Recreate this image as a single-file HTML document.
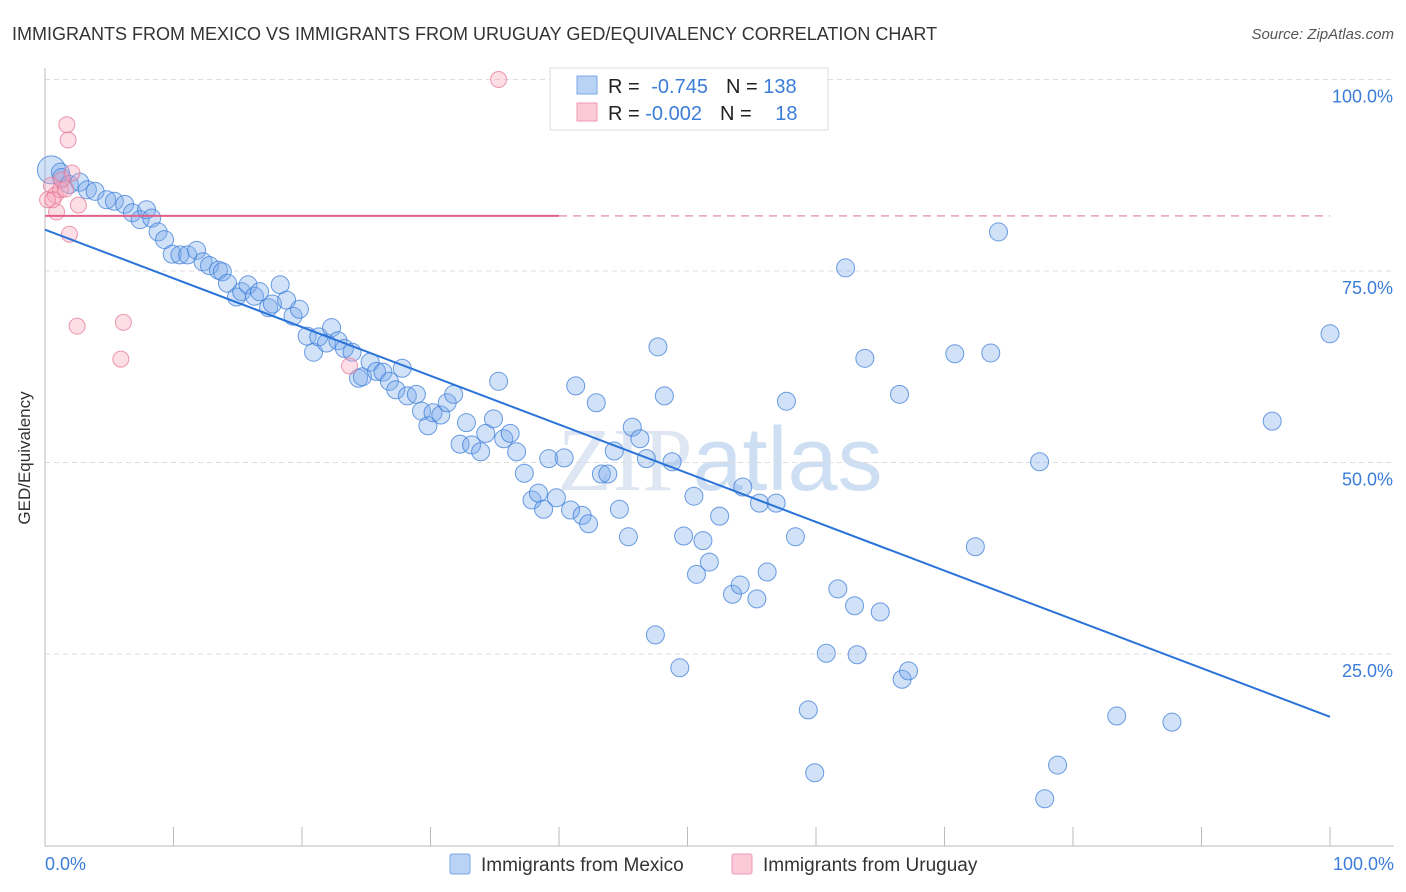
<!DOCTYPE html>
<html><head><meta charset="utf-8"><style>
body{margin:0;background:#fff;font-family:"Liberation Sans",sans-serif}
svg{display:block}
</style></head><body>
<svg id="c" width="1406" height="892" xmlns="http://www.w3.org/2000/svg">
<text x="12" y="40" font-size="18" fill="#333">IMMIGRANTS FROM MEXICO VS IMMIGRANTS FROM URUGUAY GED/EQUIVALENCY CORRELATION CHART</text>
<text x="1394" y="39" font-size="15" fill="#555" text-anchor="end" font-style="italic">Source: ZipAtlas.com</text>
<text x="720" y="490" font-size="90" fill="#dde6f2" text-anchor="middle" font-family="Liberation Serif,serif">ZIP<tspan font-family="Liberation Sans,sans-serif" fill="#cfdff3">atlas</tspan></text>
<g id="grid"></g>
<g id="axes"></g>
<g id="pts"></g>
<g id="lines"></g>
<text x="30" y="458" font-size="17" fill="#333" text-anchor="middle" transform="rotate(-90 30 458)">GED/Equivalency</text>
<text x="45" y="870" font-size="18" fill="#3b7dd8">0.0%</text>
<text x="1394" y="870" font-size="18" fill="#3b7dd8" text-anchor="end">100.0%</text>
<g>
<rect x="550" y="68" width="278" height="62" fill="#fff" stroke="#ddd"/>
<rect x="577" y="76" width="20" height="18" fill="#b9d3f5" stroke="#7aa7e8"/>
<rect x="577" y="103" width="20" height="18" fill="#fbc9d7" stroke="#ef9ab3"/>
<text x="608" y="93" font-size="20" fill="#222">R = <tspan fill="#3b7dd8" dx="6">-0.745</tspan><tspan dx="18" fill="#222">N = </tspan><tspan fill="#3b7dd8">138</tspan></text>
<text x="608" y="120" font-size="20" fill="#222">R = <tspan fill="#3b7dd8">-0.002</tspan><tspan dx="18" fill="#222">N = </tspan><tspan fill="#3b7dd8" dx="18">18</tspan></text>
</g>
<g>
<rect x="450" y="854" width="20" height="20" fill="#b9d3f5" stroke="#7aa7e8" rx="2"/>
<text x="481" y="871" font-size="19" fill="#333">Immigrants from Mexico</text>
<rect x="732" y="854" width="20" height="20" fill="#fbc9d7" stroke="#ef9ab3" rx="2"/>
<text x="763" y="871" font-size="19" fill="#333">Immigrants from Uruguay</text>
</g>
</svg>
<script>
const yTicks=[100,75,50,25];
const yTickLabels=["100.0%","75.0%","50.0%","25.0%"];
const xTicks=[0,10,20,30,40,50,60,70,80,90,100];
const mexicoX=[0.5,1.2,1.3,1.9,2.7,3.3,3.9,4.8,5.4,6.2,6.8,7.4,7.9,8.3,8.8,9.3,9.9,10.5,11.1,11.8,12.3,12.8,13.5,13.8,14.2,14.9,15.3,15.8,16.3,16.7,17.4,17.7,18.3,18.8,19.3,19.8,20.4,20.9,21.3,21.9,22.3,22.8,23.3,23.9,24.4,24.7,25.3,25.8,26.3,26.8,27.3,27.8,28.2,28.9,29.3,29.8,30.2,30.8,31.3,31.8,32.3,32.8,33.2,33.9,34.3,34.9,35.3,35.7,36.2,36.7,37.3,37.9,38.4,38.8,39.2,39.8,40.4,40.9,41.3,41.8,42.3,42.9,43.3,43.8,44.3,44.7,45.4,45.7,46.3,46.8,47.5,47.7,48.2,48.8,49.4,49.7,50.5,50.7,51.2,51.7,52.5,53.5,54.1,54.3,55.4,55.6,56.2,56.9,57.7,58.4,59.4,59.9,60.8,61.7,62.3,63.0,63.2,63.8,65.0,66.5,66.7,67.2,70.8,72.4,73.6,74.2,77.4,77.8,78.8,83.4,87.7,95.5,100,56.8];
const mexicoY=[88.2,87.9,87.2,86.3,86.6,85.6,85.4,84.3,84.1,83.7,82.6,81.7,83.0,81.9,80.1,79.1,77.2,77.1,77.1,77.7,76.2,75.7,75.1,74.9,73.4,71.6,72.3,73.2,71.7,72.3,70.2,70.7,73.2,71.2,69.1,70.0,66.5,64.4,66.4,65.6,67.6,65.9,64.9,64.4,61.0,61.2,63.1,61.9,61.8,60.6,59.5,62.3,58.7,58.9,56.7,54.8,56.5,56.2,57.8,58.9,52.4,55.2,52.3,51.4,53.8,55.7,60.6,53.1,53.8,51.4,48.6,45.1,46.0,43.9,50.5,45.4,50.6,43.8,60.0,43.1,42.0,57.8,48.5,48.5,51.5,43.9,40.3,54.6,53.1,50.5,27.5,65.1,58.7,50.1,23.2,40.4,45.6,35.4,39.8,37.0,43.0,32.8,34.0,46.8,32.2,44.7,35.7,44.7,58.0,40.3,17.7,9.5,25.1,33.5,75.4,31.3,24.9,63.6,30.5,58.9,21.7,22.8,64.2,39.0,64.3,80.1,50.1,6.1,10.5,16.9,16.1,55.4,66.8,100];
const uruguayX=[0.5,0.8,0.9,1.2,1.3,1.8,1.7,1.9,2.1,2.6,2.5,6.1,5.9,23.7,35.3,0.2,0.6,1.6];
const uruguayY=[86.2,84.9,82.7,85.6,86.9,92.1,94.1,79.8,87.8,83.6,67.8,68.3,63.5,62.6,100,84.3,84.3,85.7];
const mexicoTrend=[80.4,16.8];
const uruguayTrend=[82.2,82.2];
const NS="http://www.w3.org/2000/svg";
const X=v=>45+v*12.85, Y=v=>845.5-v*7.66;
function mk(tag,at,parent){const e=document.createElementNS(NS,tag);for(const k in at)e.setAttribute(k,at[k]);document.getElementById(parent).appendChild(e);return e;}
yTicks.forEach((t,i)=>{
 const l=mk('line',{x1:45,x2:1394,y1:Y(t),y2:Y(t),stroke:'#ddd','stroke-dasharray':'5,4'},'grid');
 
 
 const tx=mk('text',{x:1393,y:Y(t)+23,'font-size':18,fill:'#3b7dd8','text-anchor':'end'},'grid');
 tx.textContent=yTickLabels[i];
 
 
});
const ax=mk('line',{x1:45,x2:45,y1:68,y2:846,stroke:'#bbb'},'axes');


const bx=mk('line',{x1:45,x2:1394,y1:846,y2:846,stroke:'#bbb'},'axes');


xTicks.forEach(t=>{
 const l=mk('line',{x1:X(t),x2:X(t),y1:827,y2:846,stroke:'#bbb'},'axes');
 
 
});
mexicoX.forEach((v,i)=>{
 const c=mk('circle',{cx:X(v),cy:Y(mexicoY[i]),r:i==0?14:9,fill:'rgba(120,170,235,0.35)',stroke:'rgba(60,125,216,0.75)','stroke-width':1},'pts');
 
 
});
uruguayX.forEach((v,i)=>{
 const c=mk('circle',{cx:X(v),cy:Y(uruguayY[i]),r:8,fill:'rgba(245,160,185,0.35)',stroke:'rgba(230,120,150,0.75)','stroke-width':1},'pts');
 
 
});
const bl=mk('line',{x1:X(0),y1:Y(mexicoTrend[0]),x2:X(100),y2:Y(mexicoTrend[1]),stroke:'#2a74d8','stroke-width':2},'lines');


const pl=mk('line',{x1:X(0),y1:Y(uruguayTrend[0]),x2:X(40),y2:Y(uruguayTrend[0]+(uruguayTrend[1]-uruguayTrend[0])*0.4),stroke:'#e0608a','stroke-width':2},'lines');


const pd=mk('line',{x1:X(40),y1:Y(uruguayTrend[0]+(uruguayTrend[1]-uruguayTrend[0])*0.4),x2:X(100),y2:Y(uruguayTrend[1]),stroke:'#e8a0b8','stroke-width':1.5,'stroke-dasharray':'8,6'},'lines');


</script>
</body></html>
